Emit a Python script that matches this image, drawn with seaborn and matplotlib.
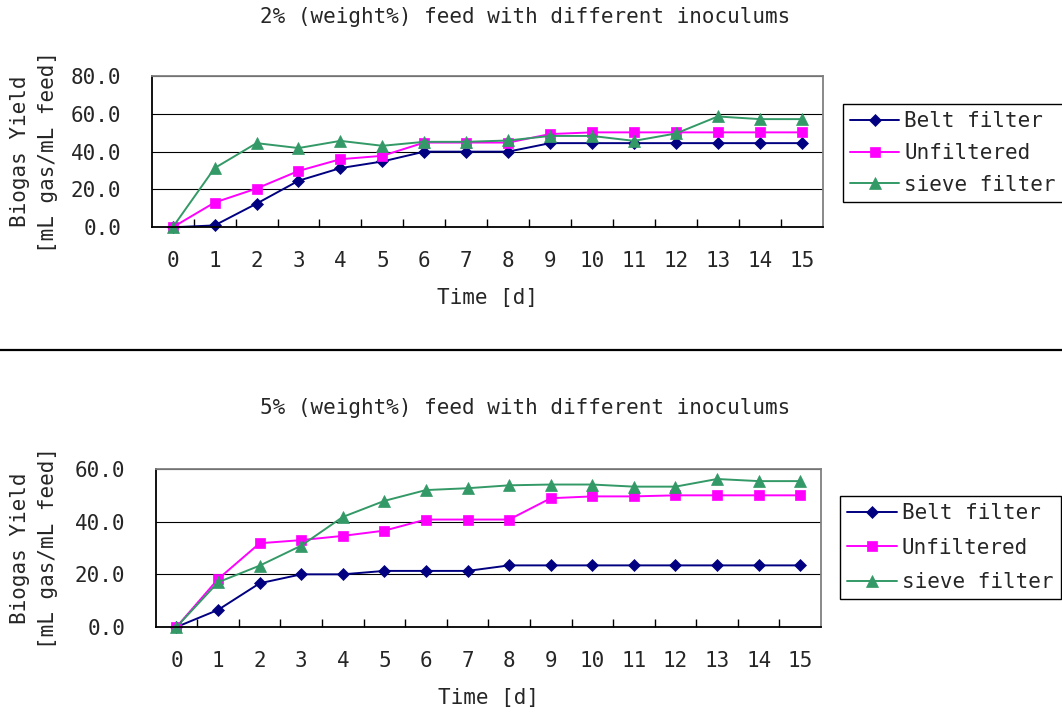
import numpy as np
import pandas as pd
import matplotlib
matplotlib.use("Agg")
import matplotlib.pyplot as plt
from matplotlib.lines import Line2D
from matplotlib.ticker import FormatStrFormatter
import seaborn as sns

# ---------------------------------------------------------------- data
days = list(range(16))
inoculums = ["Belt filter", "Unfiltered", "sieve filter"]

# 2 % (weight%) feed
belt_2 = [0.0, 1.0, 12.5, 24.6, 31.3, 34.8, 40.0, 40.0, 40.0, 44.5, 44.5, 44.5, 44.5, 44.5, 44.5, 44.5]
unfiltered_2 = [0.0, 13.1, 20.5, 29.8, 36.0, 37.8, 44.8, 44.8, 44.8, 49.3, 50.2, 50.2, 50.2, 50.2, 50.2, 50.2]
sieve_2 = [0.0, 31.3, 44.5, 41.9, 45.7, 43.1, 45.2, 45.2, 45.9, 48.3, 48.3, 45.7, 49.6, 58.6, 57.2, 57.2]

# 5 % (weight%) feed
belt_5 = [0.0, 6.5, 16.6, 20.0, 20.0, 21.3, 21.3, 21.3, 23.4, 23.4, 23.4, 23.4, 23.4, 23.4, 23.4, 23.4]
unfiltered_5 = [0.0, 18.2, 31.8, 33.0, 34.6, 36.6, 40.8, 40.8, 40.8, 48.9, 49.6, 49.6, 50.0, 50.0, 50.0, 50.0]
sieve_5 = [0.0, 17.0, 23.3, 30.9, 41.8, 47.9, 52.0, 52.7, 53.8, 54.1, 54.1, 53.3, 53.3, 56.2, 55.4, 55.4]

titles = ["2% (weight%) feed with different inoculums",
          "5% (weight%) feed with different inoculums"]
x_label = "Time [d]"
y_label = "Biogas Yield\n[mL gas/mL feed]"

# ---------------------------------------------------------------- style
sns.set_style("white")
plt.rcParams["font.family"] = ["DejaVu Sans Mono", "Liberation Mono"]
FS = 15

colors = {"Belt filter": "#000080", "Unfiltered": "#FF00FF", "sieve filter": "#339966"}
markers = {"Belt filter": "D", "Unfiltered": "s", "sieve filter": "^"}
marker_sizes = {"Belt filter": 6.0, "Unfiltered": 7.5, "sieve filter": 9.0}

W, H = 1062, 713
fig = plt.figure(figsize=(W / 100, H / 100), dpi=100)


def px_rect(left, top, right, bottom):
    return [left / W, 1 - bottom / H, (right - left) / W, (bottom - top) / H]


def tidy(values_by_name):
    rows = []
    for name in inoculums:
        for d, v in zip(days, values_by_name[name]):
            rows.append({"day": d, "yield": v, "inoculum": name})
    return pd.DataFrame(rows)


panels = [
    dict(rect=(151.7, 76.0, 822.7, 227.3), ymax=80,
         data={"Belt filter": belt_2, "Unfiltered": unfiltered_2, "sieve filter": sieve_2},
         title=titles[0], title_y=16.7, xlabel_y=297.7,
         legend_xy=(842.7, 104.0), legend_spacing=0.56),
    dict(rect=(155.7, 469.0, 821.0, 627.0), ymax=60,
         data={"Belt filter": belt_5, "Unfiltered": unfiltered_5, "sieve filter": sieve_5},
         title=titles[1], title_y=408.3, xlabel_y=698.3,
         legend_xy=(840.2, 495.7), legend_spacing=0.70),
]

for p in panels:
    left, top, right, bottom = p["rect"]
    ax = fig.add_axes(px_rect(left, top, right, bottom))
    frame = tidy(p["data"])

    sns.lineplot(data=frame, x="day", y="yield", hue="inoculum", style="inoculum",
                 hue_order=inoculums, style_order=inoculums, palette=colors,
                 markers=markers, dashes=False, errorbar=None, linewidth=1.4,
                 ax=ax)

    for line, name in zip(ax.lines, inoculums):
        line.set_markersize(marker_sizes[name])
        line.set_markeredgecolor(colors[name])
        line.set_markerfacecolor(colors[name])
        line.set_markeredgewidth(0.5)
        line.set_clip_on(False)

    # category-style x axis: labels at the days, tick marks between them
    ax.set_xlim(-0.5, 15.5)
    ax.set_xticks(days)
    ax.set_xticklabels([str(d) for d in days])
    ax.set_xticks(np.arange(0.5, 15.0, 1.0), minor=True)
    ax.tick_params(axis="x", which="major", length=0, labelsize=FS, pad=17)
    ax.tick_params(axis="x", which="minor", direction="in", length=5.5,
                   width=1.0, color="black", bottom=True)

    ax.set_ylim(0, p["ymax"])
    ax.set_yticks(np.arange(0, p["ymax"] + 1, 20))
    ax.yaxis.set_major_formatter(FormatStrFormatter("%.1f"))
    ax.tick_params(axis="y", which="major", length=0, labelsize=FS, pad=22)

    ax.yaxis.grid(True, color="black", linewidth=0.8)
    ax.xaxis.grid(False)
    ax.set_axisbelow(True)

    for side in ("top", "right"):
        ax.spines[side].set_color("#808080")
        ax.spines[side].set_linewidth(1.3)
    for side in ("left", "bottom"):
        ax.spines[side].set_color("black")
        ax.spines[side].set_linewidth(1.3)

    # axis titles
    ax.set_xlabel(x_label, fontsize=FS)
    ax.xaxis.set_label_coords(0.5, (bottom - p["xlabel_y"]) / (bottom - top))
    ax.xaxis.label.set_va("center")

    ax.set_ylabel(y_label, fontsize=FS, linespacing=1.5, multialignment="center")
    ax.yaxis.set_label_coords((33.5 - left) / (right - left), 0.5)
    ax.yaxis.label.set_va("center")

    # chart title
    fig.text(525 / W, 1 - p["title_y"] / H, p["title"], ha="center", va="center",
             fontsize=FS)

    # legend to the right of the plot area
    lx, ly = p["legend_xy"]
    leg = ax.legend(handles=ax.lines[:3], labels=inoculums, loc="upper left",
                    bbox_to_anchor=(lx / W, 1 - ly / H), bbox_transform=fig.transFigure,
                    fontsize=FS, frameon=True, fancybox=False, framealpha=1,
                    edgecolor="black", handlelength=2.36, handletextpad=0.25,
                    borderpad=0.35, labelspacing=p["legend_spacing"],
                    borderaxespad=0)
    leg.get_frame().set_linewidth(1.0)

# divider between the two charts
fig.add_artist(Line2D([0, 1], [1 - 350 / H, 1 - 350 / H], transform=fig.transFigure,
                      color="black", linewidth=1.6))

fig.savefig("out.png", dpi=100)
